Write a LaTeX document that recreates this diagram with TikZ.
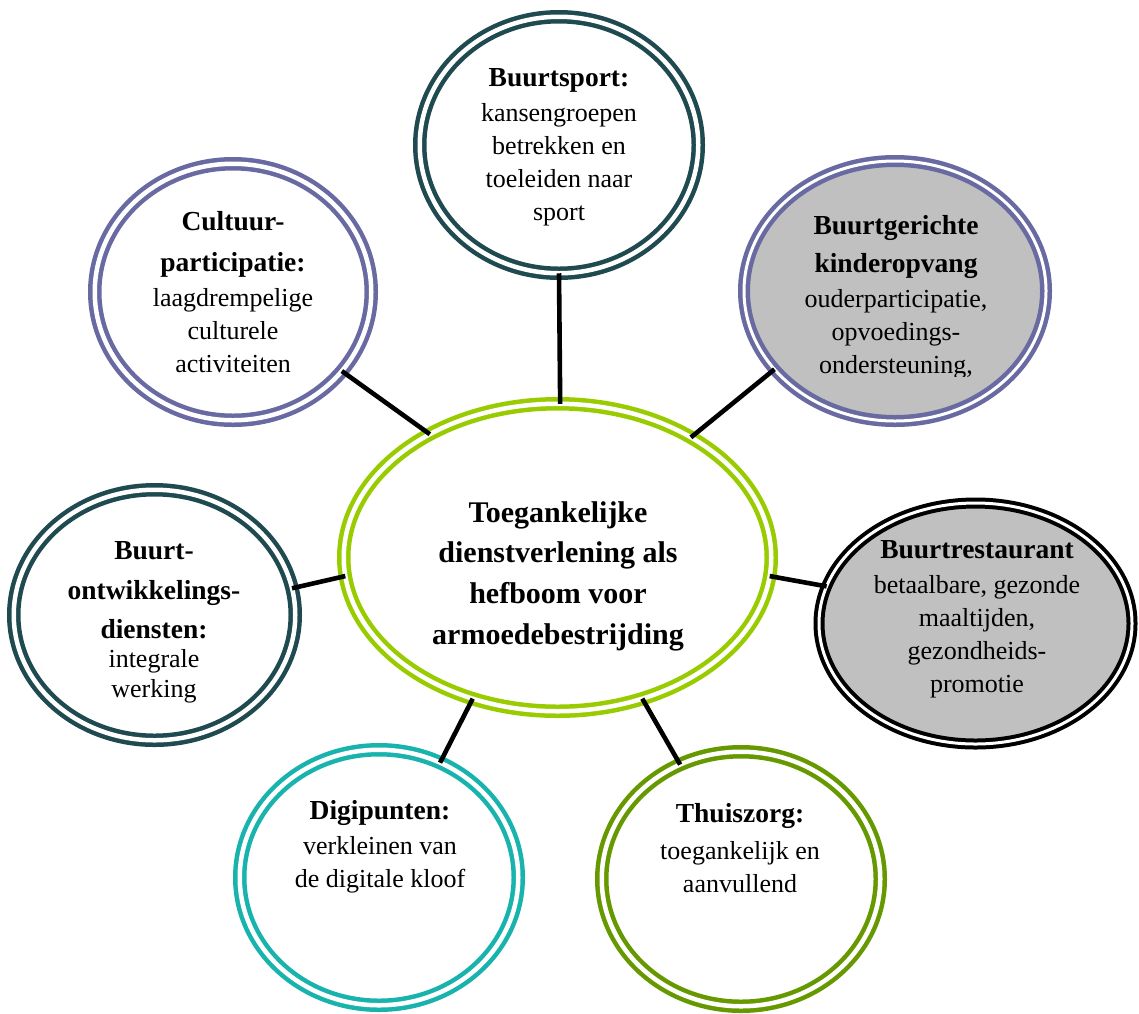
\documentclass[tikz,border=0pt]{standalone}
\usepackage{fontspec}
\setmainfont{Liberation Serif}
\usetikzlibrary{shapes.geometric}
\definecolor{dteal}{HTML}{1F4A50}
\definecolor{purp}{HTML}{6A6AA3}
\definecolor{lgreen}{HTML}{99CC00}
\definecolor{cteal}{HTML}{19B3AE}
\definecolor{dgreen}{HTML}{669900}
\definecolor{fgray}{HTML}{C0C0C0}
\tikzset{
  bubble/.style={ellipse, inner sep=0pt, outer sep=0pt, line width=4.5pt,
    double=white, double distance=4.5pt, fill=white},
  graybubble/.style={bubble, double distance=3pt, fill=fgray},
  conn/.style={line width=4.6pt, black},
  body/.style={align=center, font=\fontsize{26}{33}\selectfont, inner sep=0pt},
  centertext/.style={align=center, font=\fontsize{30}{40.7}\selectfont\bfseries, inner sep=0pt},
}
\newcommand{\ttl}[1]{{\fontsize{27.5}{33}\selectfont\bfseries #1}}
\begin{document}
\begin{tikzpicture}[x=1pt,y=-1pt]
\useasboundingbox (0,0) rectangle (1139,1013);

% bubbles
\node[bubble, draw=lgreen, minimum width=427.5pt, minimum height=307.5pt] (c) at (557.5,557.5) {};
\node[bubble, draw=dteal, minimum width=278.5pt, minimum height=256.5pt] (sport) at (559,145) {};
\node[bubble, draw=purp, minimum width=276.5pt, minimum height=256.5pt] (cult) at (233,292) {};
\node[graybubble, draw=purp, minimum width=302pt, minimum height=260pt] (kind) at (895,291) {};
\node[graybubble, draw=black, line width=4pt, minimum width=313pt, minimum height=241pt] (rest) at (975.5,623.5) {};
\node[bubble, draw=dteal, minimum width=281.5pt, minimum height=250.5pt] (ontw) at (154.5,615) {};
\node[bubble, draw=cteal, minimum width=278.5pt, minimum height=255.5pt] (digi) at (379,877.5) {};
\node[bubble, draw=dgreen, minimum width=278.5pt, minimum height=254.5pt] (thuis) at (741,879) {};

% connectors
\draw[conn] (c.89.6) -- (sport.270);
\draw[conn] (c.136.6) -- (cult.324.5);
\draw[conn] (c.42.6) -- (kind.213.9);
\draw[conn] (c.-5.3) -- (rest.166.1);
\draw[conn] (c.185.3) -- (ontw.11.1);
\draw[conn] (c.239.5) -- (digi.62.7);
\draw[conn] (c.301.4) -- (thuis.118.5);

% texts
\node[centertext] (tc) at (558,576) {Toegankelijke\\ dienstverlening als\\ hefboom voor\\ armoedebestrijding};
\node[body] (tsport) at (559,147) {\ttl{Buurtsport:}\\[2pt] kansengroepen\\ betrekken en\\ toeleiden naar\\ sport};
\node[body] (tcult) at (233,292) {\ttl{Cultuur-}\\[8pt] \ttl{participatie:}\\[2pt] laagdrempelige\\ culturele\\ activiteiten};
\begin{scope}
  \clip (700,150) rectangle (1100,376);
  \node[body] (tkind) at (896,297) {\ttl{Buurtgerichte}\\[5pt] \ttl{kinderopvang}\\[2pt] ouderparticipatie,\\ opvoedings-\\ ondersteuning,};
\end{scope}
\node[body] (trest) at (977,619) {\ttl{Buurtrestaurant}\\[2pt] betaalbare, gezonde\\ maaltijden,\\ gezondheids-\\ promotie};
\begin{scope}
  \clip (0,480) rectangle (320,703);
  \node[body] (tontw) at (154,622.5) {\ttl{Buurt-}\\[7pt] \ttl{ontwikkelings-}\\[6pt] \ttl{diensten:}\\[-4pt] integrale\\[-3pt] werking};
\end{scope}
\node[body] (tdigi) at (380,846.5) {\ttl{Digipunten:}\\[2pt] verkleinen van\\ de digitale kloof};
\node[body] (tthuis) at (740,848) {\ttl{Thuiszorg:}\\[4pt] toegankelijk en\\ aanvullend};
\end{tikzpicture}
\end{document}
